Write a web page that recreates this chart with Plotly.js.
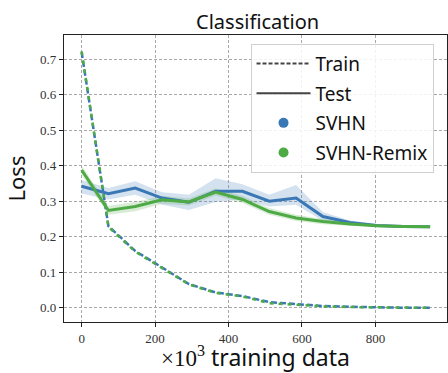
<!DOCTYPE html>
<html><head><meta charset="utf-8">
<script src="https://cdn.plot.ly/plotly-3.0.1.min.js"></script>
<style>html,body{margin:0;padding:0;background:#fff}#c{width:448px;height:373px}</style>
</head><body><div id="c"></div>
<script>
const xs = [0,73,146,219,292,365,438,511,584,657,730,803,876,949];
const svhnTest   = [0.342,0.321,0.337,0.309,0.297,0.328,0.328,0.300,0.309,0.257,0.240,0.232,0.229,0.228];
const svhnTestLo = [0.322,0.305,0.318,0.290,0.275,0.298,0.305,0.285,0.290,0.245,0.234,0.228,0.226,0.225];
const svhnTestHi = [0.360,0.337,0.356,0.325,0.318,0.365,0.348,0.318,0.346,0.270,0.246,0.236,0.232,0.231];
const remixTest   = [0.388,0.274,0.285,0.304,0.298,0.326,0.305,0.271,0.253,0.243,0.236,0.231,0.229,0.228];
const remixTestLo = [0.375,0.262,0.272,0.293,0.288,0.316,0.295,0.262,0.244,0.235,0.231,0.228,0.226,0.225];
const remixTestHi = [0.400,0.287,0.298,0.315,0.308,0.336,0.315,0.281,0.262,0.250,0.241,0.234,0.232,0.231];
const svhnTrain  = [0.720,0.230,0.160,0.113,0.067,0.043,0.033,0.016,0.010,0.005,0.003,0.001,0.000,0.000];
const remixTrain = [0.722,0.228,0.158,0.112,0.066,0.042,0.032,0.013,0.008,0.004,0.002,0.001,0.000,0.000];
const legendLabels = ["Train","Test","SVHN","SVHN-Remix"];

const BLUE = "#3a78b5", GREEN = "#4eaa45";
function band(lo, hi, fill){
  return [
    {x: xs, y: lo, mode:"lines", line:{width:0, color:fill}, showlegend:false, hoverinfo:"skip"},
    {x: xs, y: hi, mode:"lines", line:{width:0, color:fill}, fill:"tonexty", fillcolor:fill, showlegend:false, hoverinfo:"skip"}
  ];
}
const traces = [
  ...band(svhnTestLo, svhnTestHi, "rgba(58,120,181,0.22)"),
  ...band(remixTestLo, remixTestHi, "rgba(78,170,69,0.22)"),
  {x: xs, y: svhnTrain, mode:"lines", line:{color:BLUE, width:2.5, dash:"6px,3px"}, showlegend:false},
  {x: xs, y: remixTrain, mode:"lines", line:{color:GREEN, width:2.5, dash:"4px,5px"}, showlegend:false},
  {x: xs, y: svhnTest, mode:"lines", line:{color:BLUE, width:3}, showlegend:false},
  {x: xs, y: remixTest, mode:"lines", line:{color:GREEN, width:3}, showlegend:false},
  {x:[null], y:[null], mode:"lines", name:legendLabels[0], legendgroup:"a", line:{color:"#444", width:2, dash:"4px,2px"}},
  {x:[null], y:[null], mode:"lines", name:legendLabels[1], legendgroup:"b", line:{color:"#444", width:2}},
  {x:[null], y:[null], mode:"markers", name:legendLabels[2], legendgroup:"c", marker:{color:BLUE, size:10}},
  {x:[null], y:[null], mode:"markers", name:legendLabels[3], legendgroup:"d", marker:{color:GREEN, size:10}}
];
const axisCommon = {
  showgrid:true, gridcolor:"#a8a8a8", griddash:"3px,2px", gridwidth:1,
  showline:true, mirror:true, linecolor:"#222", linewidth:1.2,
  ticks:"outside", ticklen:4, tickcolor:"#222",
  zeroline:false,
  tickfont:{family:"Liberation Serif, serif", size:13, color:"#333"}
};
const layout = {
  width:448, height:373,
  margin:{l:64, r:1, t:35, b:51},
  paper_bgcolor:"#fff", plot_bgcolor:"#fff",
  title:{text:"Classification", x:0.575, xanchor:"center", y:0.94, yanchor:"middle",
         font:{family:"Noto Sans, sans-serif", size:20, color:"#111"}},
  xaxis:Object.assign({}, axisCommon, {range:[-48,995], tickvals:[0,200,400,600,800],
    title:{text:'<span style="font-family:Liberation Serif">×10<sup>3</sup></span> training data', standoff:9,
           font:{family:"Noto Sans, sans-serif", size:23, color:"#111"}}}),
  yaxis:Object.assign({}, axisCommon, {range:[-0.04,0.768], tickvals:[0,0.1,0.2,0.3,0.4,0.5,0.6,0.7], tickformat:".1f",
    title:{text:"Loss", standoff:8, font:{family:"Noto Sans, sans-serif", size:22, color:"#111"}}}),
  legend:{x:0.487, y:0.97, xanchor:"left", yanchor:"top", bgcolor:"rgba(255,255,255,0.85)",
          bordercolor:"#d0d0d0", borderwidth:1, traceorder:"grouped", tracegroupgap:2, itemwidth:54,
          font:{family:"Noto Sans, sans-serif", size:19, color:"#111"}},
  showlegend:true
};
Plotly.newPlot("c", traces, layout, {displayModeBar:false, staticPlot:true});
</script></body></html>
